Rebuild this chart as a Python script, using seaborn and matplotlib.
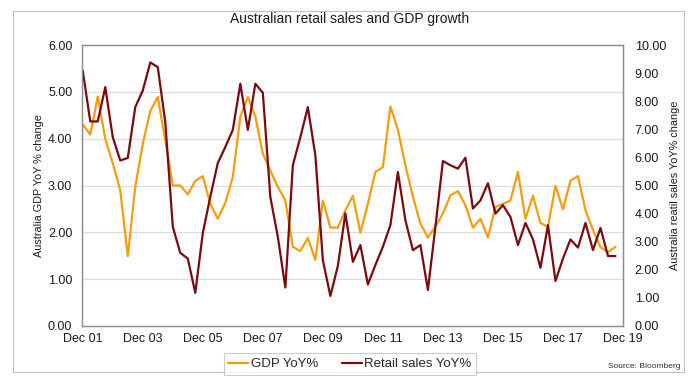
import matplotlib
matplotlib.use("Agg")
import matplotlib.pyplot as plt
import seaborn as sns
import pandas as pd
from matplotlib.patches import Rectangle
from matplotlib.lines import Line2D

sns.set_theme(style="white")
plt.rcParams['font.family'] = ['Liberation Sans', 'DejaVu Sans']

# Quarterly observations, Dec 01 .. Sep 19
gdp = [4.30, 4.09, 4.90, 4.00, 3.47, 2.90, 1.49, 2.97, 3.89, 4.59,
       4.89, 3.96, 3.00, 3.00, 2.81, 3.10, 3.20, 2.61, 2.29, 2.63,
       3.18, 4.47, 4.89, 4.47, 3.68, 3.32, 2.97, 2.68, 1.69, 1.60,
       1.88, 1.41, 2.68, 2.10, 2.10, 2.47, 2.78, 1.99, 2.61, 3.29,
       3.39, 4.69, 4.19, 3.43, 2.76, 2.19, 1.89, 2.12, 2.40, 2.79,
       2.88, 2.58, 2.10, 2.29, 1.89, 2.54, 2.61, 2.68, 3.29, 2.29,
       2.78, 2.20, 2.12, 2.99, 2.49, 3.10, 3.20, 2.47, 2.05, 1.68,
       1.58, 1.69]
retail = [9.09, 7.28, 7.28, 8.50, 6.72, 5.89, 5.98, 7.79, 8.38, 9.38,
          9.21, 7.25, 3.53, 2.60, 2.40, 1.18, 3.31, 4.60, 5.80, 6.37,
          6.98, 8.62, 6.98, 8.62, 8.30, 4.59, 3.17, 1.37, 5.72, 6.72,
          7.79, 6.07, 2.34, 1.07, 2.14, 4.01, 2.28, 2.88, 1.48, 2.17,
          2.82, 3.59, 5.48, 3.76, 2.70, 2.88, 1.28, 3.53, 5.87, 5.72,
          5.60, 5.99, 4.18, 4.47, 5.08, 4.00, 4.30, 3.88, 2.88, 3.67,
          3.08, 2.07, 3.59, 1.60, 2.40, 3.08, 2.79, 3.67, 2.70, 3.49,
          2.49, 2.49]
tick_labels = ["Dec 01", "Dec 03", "Dec 05", "Dec 07", "Dec 09",
               "Dec 11", "Dec 13", "Dec 15", "Dec 17", "Dec 19"]
left_ticks = [0, 1, 2, 3, 4, 5, 6]
right_ticks = [0, 1, 2, 3, 4, 5, 6, 7, 8, 9, 10]

df = pd.DataFrame({"q": range(len(gdp)), "gdp": gdp, "retail": retail})

c_gdp = "#F59D0E"
c_ret = "#7A0A0F"
grid_c = "#DCDCDC"
spine_c = "#8C8C8C"

fig = plt.figure(figsize=(6.91, 3.76), dpi=100)
fig.patch.set_facecolor("white")
fig.patches.append(Rectangle((12.5/691, 1-372/376), 671.5/691, 361/376,
                             transform=fig.transFigure, fill=False,
                             edgecolor="#BFBFBF", linewidth=0.8))

ax = fig.add_axes([82/691, 1-326/376, 541/691, 281/376])
sns.lineplot(data=df, x="q", y="gdp", ax=ax, color=c_gdp, linewidth=1.6)
ax2 = ax.twinx()
sns.lineplot(data=df, x="q", y="retail", ax=ax2, color=c_ret, linewidth=1.6)

ax.set_xlim(-0.1, 72)
ax.set_ylim(0, 6)
ax2.set_ylim(0, 10)
ax.set_yticks(left_ticks)
ax.set_yticklabels([f"{v:.2f}" for v in left_ticks])
ax2.set_yticks(right_ticks)
ax2.set_yticklabels([f"{v:.2f}" for v in right_ticks])
ax.set_xticks(list(range(0, 73, 8)))
ax.set_xticklabels(tick_labels)

for v in left_ticks[1:-1]:
    ax.axhline(v, color=grid_c, linewidth=0.9, zorder=0)
ax.grid(False)
ax2.grid(False)

for a in (ax, ax2):
    for s in a.spines.values():
        s.set_color(spine_c)
        s.set_linewidth(0.9)
ax.tick_params(axis="x", length=3, color=grid_c, labelsize=9, pad=2,
               labelcolor="#1a1a1a")
ax.tick_params(axis="y", length=0, labelsize=9, pad=7, labelcolor="#1a1a1a")
ax2.tick_params(axis="y", length=0, labelsize=9, pad=8.5, labelcolor="#1a1a1a")

ax.set_xlabel("")
ax.set_ylabel("Australia GDP YoY % change", fontsize=7.8, labelpad=3,
              color="#1a1a1a")
ax2.set_ylabel("Australia reatil sales YoY% change", fontsize=7.8,
               labelpad=3, color="#1a1a1a")

fig.text(350/691, 1-19/376, "Australian retail sales and GDP growth",
         ha="center", va="center", fontsize=10, color="#1a1a1a")

handles = [Line2D([], [], color=c_gdp, linewidth=1.6),
           Line2D([], [], color=c_ret, linewidth=1.6)]
leg = fig.legend(handles, ["GDP YoY%", "Retail sales YoY%"], ncol=2,
                 loc="center", bbox_to_anchor=(350/691, 1-364/376),
                 fontsize=9.5, frameon=True, fancybox=False,
                 handlelength=1.5, handletextpad=0.2, columnspacing=1.8,
                 borderpad=0.35)
leg.get_frame().set_edgecolor("#BFBFBF")
leg.get_frame().set_linewidth(0.8)

fig.text(680/691, 1-367/376, "Source: Bloomberg", ha="right", va="center",
         fontsize=6, color="#333333")

fig.savefig("out.png", dpi=100, facecolor="white")
